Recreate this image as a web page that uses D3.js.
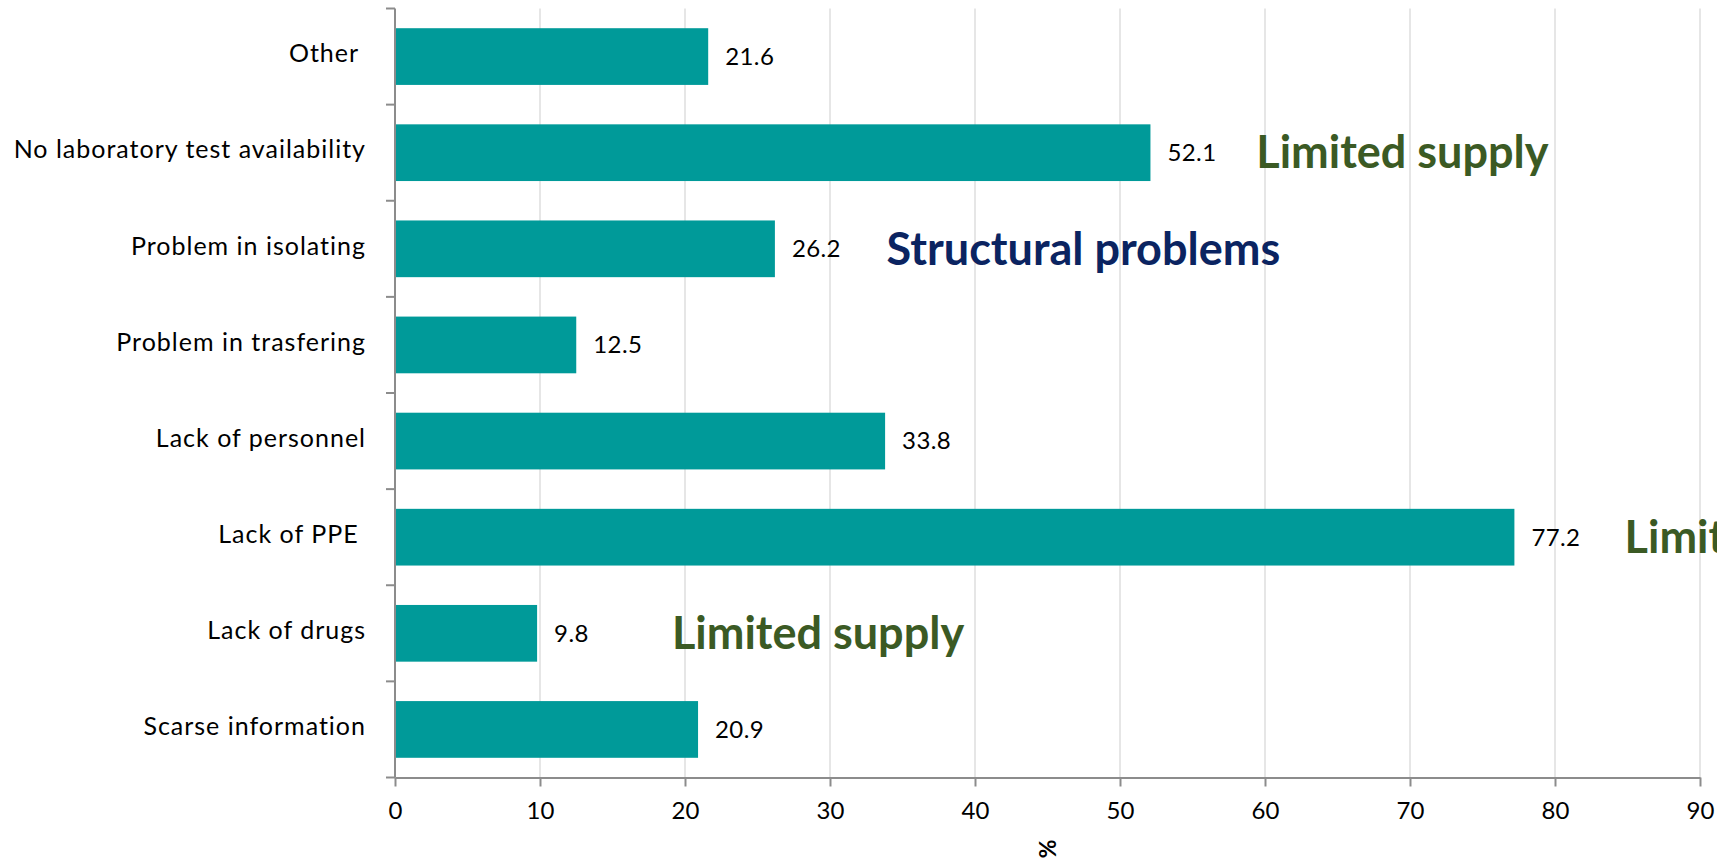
<!DOCTYPE html>
<html>
<head>
<meta charset="utf-8">
<script src="https://cdn.jsdelivr.net/npm/d3@7"></script>
<style>
  html, body { margin: 0; padding: 0; background: #fff; overflow: hidden; }
  svg { display: block; }
  text { font-family: Lato, "Open Sans", sans-serif; }
</style>
</head>
<body>
<svg id="chart" width="1717" height="860"></svg>
<script>
// Reported problems (% of respondents)
const categories = [
  "Other ",
  "No laboratory test availability",
  "Problem in isolating",
  "Problem in trasfering",
  "Lack of personnel",
  "Lack of PPE ",
  "Lack of drugs",
  "Scarse information"
];
const values = [21.6, 52.1, 26.2, 12.5, 33.8, 77.2, 9.8, 20.9];
const xTickValues = [0, 10, 20, 30, 40, 50, 60, 70, 80, 90];
const xAxisTitle = "%";

// Group labels placed beside the bars (x given in % units)
const noteTexts = ["Limited supply", "Structural problems", "Limited supply", "Limited supply"];
const noteRows = ["No laboratory test availability", "Problem in isolating", "Lack of PPE ", "Lack of drugs"];
const noteAt = [59.4, 33.9, 84.8, 19.1];
const noteGroup = ["supply", "structural", "supply", "supply"];

const groupColor = { supply: "#3B5A24", structural: "#0B2461" };
const barColor = "#009A99";
const axisColor = "#8C8C8C";
const gridColor = "#D9D9D9";

const svg = d3.select("#chart");

const x = d3.scaleLinear().domain([0, 90]).range([395, 1700]);
const y = d3.scaleBand().domain(categories).range([8.5, 777.5])
  .paddingInner(0.41).paddingOuter(0.205);

// vertical gridlines
svg.append("g")
  .selectAll("line")
  .data(xTickValues.filter(d => d > 0))
  .join("line")
  .attr("x1", d => x(d)).attr("x2", d => x(d))
  .attr("y1", 8.5).attr("y2", 777.5)
  .attr("stroke", gridColor).attr("stroke-width", 1.3);

// bars
svg.append("g")
  .selectAll("rect")
  .data(values)
  .join("rect")
  .attr("x", x(0))
  .attr("y", (d, i) => y(categories[i]))
  .attr("width", d => x(d) - x(0))
  .attr("height", y.bandwidth())
  .attr("fill", barColor);

// x axis
const xAxis = d3.axisBottom(x).tickValues(xTickValues).tickSize(9).tickSizeOuter(0).tickPadding(15);
const gx = svg.append("g").attr("transform", "translate(0,777.5)").call(xAxis);
gx.select(".domain").attr("stroke", axisColor).attr("stroke-width", 2);
gx.selectAll(".tick line").attr("stroke", axisColor).attr("stroke-width", 2);
gx.selectAll(".tick text")
  .attr("fill", "#000")
  .style("font-size", "24px")
  .style("font-family", "Lato, sans-serif");

// y axis: category boundaries carry the tick marks
const boundaries = d3.range(categories.length + 1).map(i => 8.5 + i * y.step());
const gy = svg.append("g");
gy.append("line")
  .attr("x1", x(0)).attr("x2", x(0))
  .attr("y1", 8.5).attr("y2", 777.5)
  .attr("stroke", axisColor).attr("stroke-width", 2);
gy.selectAll("line.tk")
  .data(boundaries)
  .join("line").attr("class", "tk")
  .attr("x1", x(0) - 9).attr("x2", x(0))
  .attr("y1", d => d).attr("y2", d => d)
  .attr("stroke", axisColor).attr("stroke-width", 2);

// category labels
svg.append("g")
  .selectAll("text")
  .data(categories)
  .join("text")
  .attr("x", x(0) - 29)
  .attr("y", d => y(d) + y.bandwidth() / 2 - 3)
  .attr("dy", "0.35em")
  .attr("text-anchor", "end")
  .style("white-space", "pre")
  .style("font-size", "25px")
  .style("letter-spacing", "1px")
  .attr("fill", "#000")
  .text(d => d);

// value labels
svg.append("g")
  .selectAll("text")
  .data(values)
  .join("text")
  .attr("x", d => x(d) + 17)
  .attr("y", (d, i) => y(categories[i]) + y.bandwidth() / 2)
  .attr("dy", "0.35em")
  .style("font-size", "24px")
  .style("letter-spacing", "0.4px")
  .attr("fill", "#000")
  .text(d => d.toFixed(1));

// group notes
svg.append("g")
  .selectAll("text")
  .data(noteTexts)
  .join("text")
  .attr("x", (d, i) => x(noteAt[i]))
  .attr("y", (d, i) => y(noteRows[i]) + y.bandwidth() / 2)
  .attr("dy", "0.35em")
  .style("font-size", "45px")
  .style("font-weight", 700)
  .attr("fill", (d, i) => groupColor[noteGroup[i]])
  .text(d => d);

// axis title
svg.append("text")
  .attr("transform", `translate(${(x(0) + x(90)) / 2},849) rotate(90)`)
  .attr("text-anchor", "middle")
  .attr("dy", "0.35em")
  .style("font-size", "23px")
  .style("font-weight", 700)
  .attr("fill", "#000")
  .text(xAxisTitle);
</script>
</body>
</html>
